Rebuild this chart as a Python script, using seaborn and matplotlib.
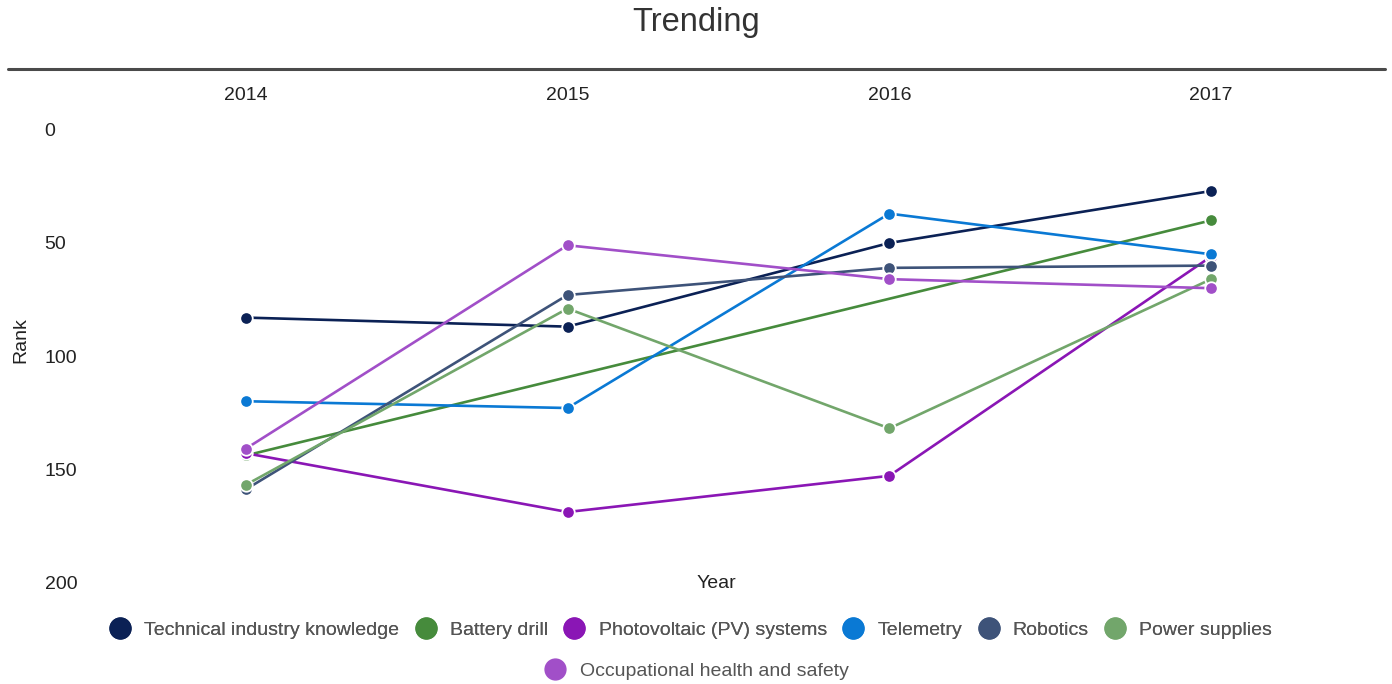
import matplotlib
matplotlib.use("Agg")
import matplotlib.pyplot as plt
from matplotlib.lines import Line2D
import seaborn as sns
import numpy as np
import pandas as pd

years = [2014, 2015, 2016, 2017]
skills = ["Technical industry knowledge", "Battery drill", "Photovoltaic (PV) systems",
          "Telemetry", "Robotics", "Power supplies", "Occupational health and safety"]
technical = [83, 87, 50, 27]
battery = [144, np.nan, np.nan, 40]
photovoltaic = [143, 169, 153, 56]
telemetry = [120, 123, 37, 55]
robotics = [159, 73, 61, 60]
power = [157, 79, 132, 66]
occupational = [141, 51, 66, 70]
colors = ["#0b2155", "#468b3c", "#8a16b5", "#0a79d4", "#3e5379", "#72a66b", "#a14fc8"]

ranks = [technical, battery, photovoltaic, telemetry, robotics, power, occupational]
rows = []
for name, vals in zip(skills, ranks):
    for y, v in zip(years, vals):
        rows.append({"Year": y, "Rank": v, "Skill": name})
df = pd.DataFrame(rows).dropna()

sns.set_style("white")
plt.rcParams["font.family"] = ["Liberation Sans", "DejaVu Sans"]

fig = plt.figure(figsize=(13.92, 6.84), dpi=100)
ax = fig.add_axes([0.061, 0.149, 0.9246, 0.661])

sns.lineplot(data=df, x="Year", y="Rank", hue="Skill", hue_order=skills,
             palette=colors, marker="o", markersize=9, markeredgecolor="white",
             markeredgewidth=1.3, linewidth=1.9, legend=False, ax=ax)

ax.set_xlim(2013.5, 2017.5)
ax.set_ylim(200, 0)
ax.set_xticks(years)
ax.set_xticklabels([str(y) for y in years])
ax.set_yticks([0, 50, 100, 150, 200])
ax.xaxis.tick_top()
ax.tick_params(axis="x", length=0, pad=19, labelsize=14, colors="#222222")
ax.tick_params(axis="y", length=0, pad=29, labelsize=14, colors="#222222")
for t in ax.get_yticklabels():
    t.set_horizontalalignment("left")
for s in ax.spines.values():
    s.set_visible(False)

ax.set_xlabel("")
ax.set_ylabel("Rank", fontsize=14, color="#222222")
ax.yaxis.set_label_coords(-0.043, 0.535)
fig.text(716 / 1392, 1 - 584 / 684, "Year", ha="center", va="center",
         fontsize=14, color="#222222")

fig.text(0.5, 1 - 22 / 684, "Trending", ha="center", va="center",
         fontsize=23.5, color="#333333")
fig.add_artist(Line2D([8 / 1392, 1385 / 1392], [1 - 69 / 684, 1 - 69 / 684],
                      color="#4a4a4a", lw=2.2, transform=fig.transFigure))

handles = [Line2D([], [], marker="o", linestyle="", markersize=15,
                  markerfacecolor=c, markeredgecolor=c) for c in colors]
leg1 = fig.legend(handles[:6], skills[:6], loc="center", ncol=6,
                  bbox_to_anchor=(0.496, 1 - 630 / 684), frameon=False,
                  fontsize=14, labelcolor="#555555", handletextpad=0.65,
                  columnspacing=0.75, handlelength=1.2)
fig.add_artist(leg1)
fig.legend(handles[6:], skills[6:], loc="center",
           bbox_to_anchor=(0.5, 1 - 671 / 684), frameon=False,
           fontsize=14, labelcolor="#555555", handletextpad=0.65,
           handlelength=1.2)

fig.savefig("out.png", dpi=100)
